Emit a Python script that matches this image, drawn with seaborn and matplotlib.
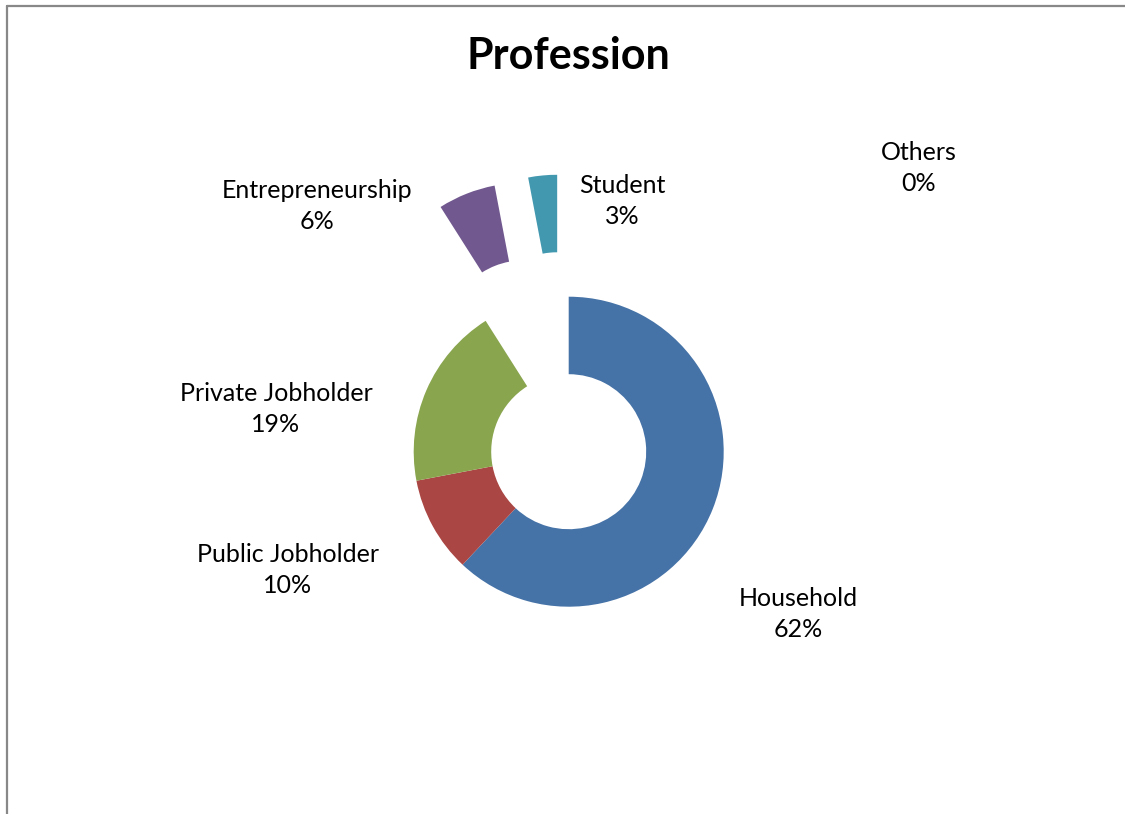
import matplotlib
matplotlib.use("Agg")
import matplotlib.pyplot as plt
from matplotlib.lines import Line2D
import seaborn as sns

# Survey breakdown by profession (percent of respondents)
categories = ["Household", "Public Jobholder", "Private Jobholder",
              "Entrepreneurship", "Student", "Others"]
shares = [62, 10, 19, 6, 3, 0]
pulled_out = ["Entrepreneurship", "Student"]
slice_colors = ["#4572A7", "#AA4643", "#89A54E", "#71588F", "#4198AF", "#DB843D"]

sns.set_theme(style="white")
plt.rcParams["font.family"] = ["Lato", "DejaVu Sans"]

W, H = 1125, 814
fig = plt.figure(figsize=(W / 100, H / 100), dpi=100)
ax = fig.add_axes([0, 0, 1, 1])

# Pie drawn in pixel-like units: centre and radius of the ring
cx, cy, R = 568.7, H - 451.7, 155
explode = [0.79 * R if c in pulled_out else 0 for c in categories]

ax.pie(shares, colors=sns.color_palette(slice_colors), startangle=90,
       counterclock=False, center=(cx, cy), radius=R, explode=explode,
       wedgeprops=dict(width=0.5 * R, linewidth=0), frame=True)
ax.set_xlim(0, W)
ax.set_ylim(0, H)
ax.set_aspect("auto")
ax.axis("off")

# Data labels (category name over percentage)
label_pos = [(798, 614), (288, 570), (276, 409), (317, 206), (622, 201), (919, 168)]
for cat, val, (px, py) in zip(categories, shares, label_pos):
    ax.text(px, H - py, f"{cat}\n{val}%", ha="center", va="center",
            fontsize=18, color="black", linespacing=1.45)

ax.text(568.3, H - 56, "Profession", ha="center", va="center",
        fontsize=31, fontweight="bold", color="black")

# Chart area border (left and top edges)
fig.add_artist(Line2D([7 / W, 7 / W], [0, 1 - 6 / H], transform=fig.transFigure,
                      color="#888888", linewidth=1.6))
fig.add_artist(Line2D([7 / W, 1], [1 - 6 / H, 1 - 6 / H], transform=fig.transFigure,
                      color="#888888", linewidth=1.6))

fig.savefig("out.png", dpi=100)
